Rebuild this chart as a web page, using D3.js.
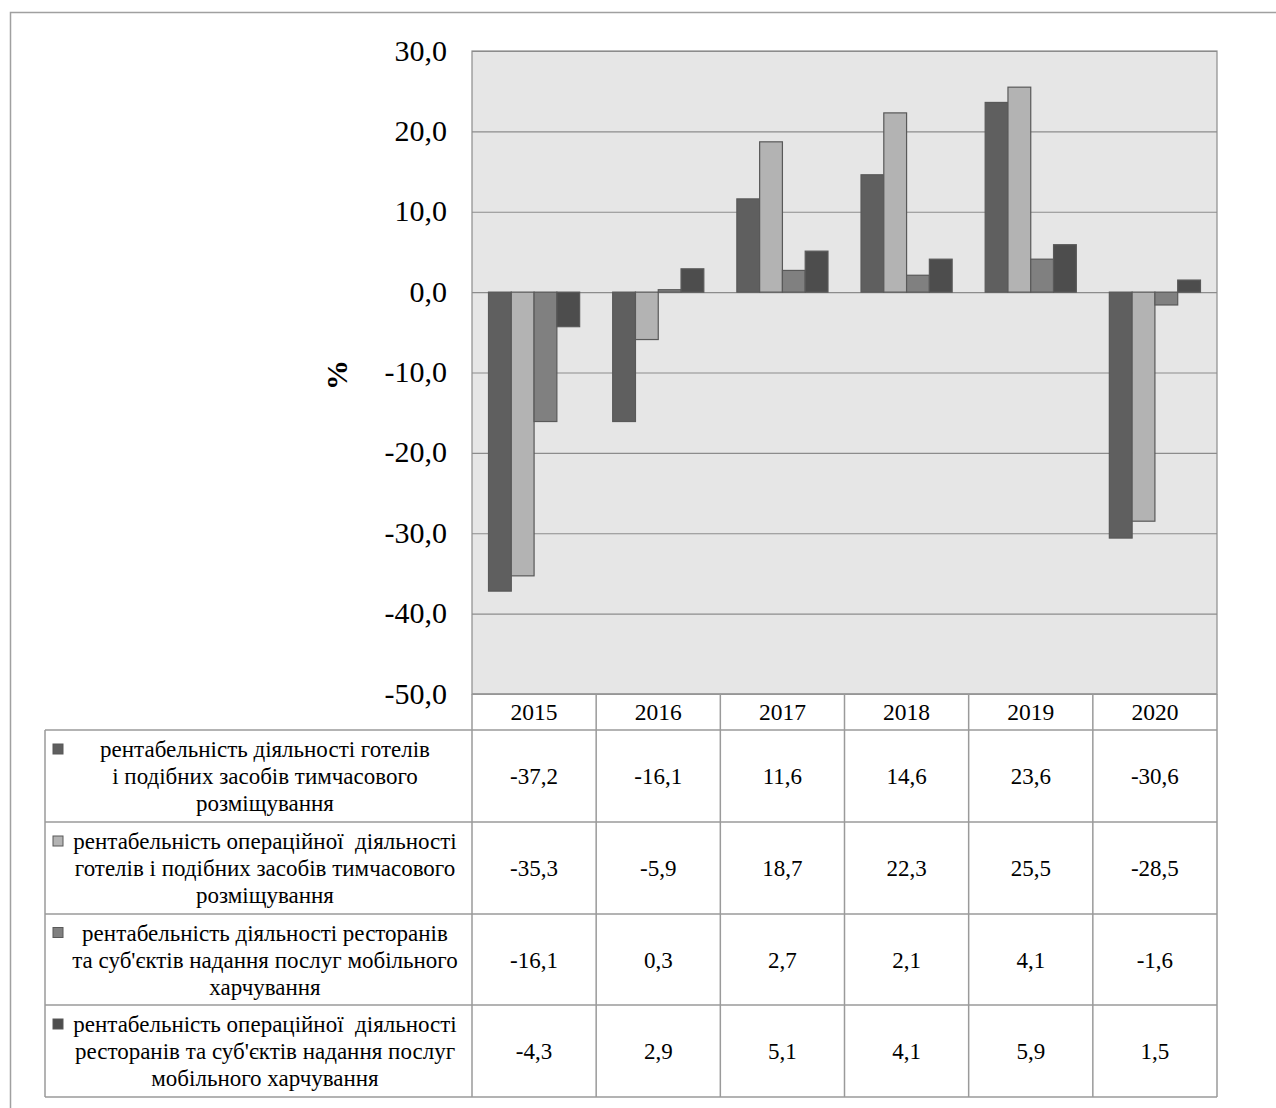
<!DOCTYPE html>
<html>
<head>
<meta charset="utf-8">
<script src="https://cdn.jsdelivr.net/npm/d3@7"></script>
</head>
<body style="margin:0; background:#fff">
<div id="chart-area"></div>
<script>
// data
var years = ["2015", "2016", "2017", "2018", "2019", "2020"];
var hotelsNet = [-37.2, -16.1, 11.6, 14.6, 23.6, -30.6];
var hotelsOper = [-35.3, -5.9, 18.7, 22.3, 25.5, -28.5];
var restNet = [-16.1, 0.3, 2.7, 2.1, 4.1, -1.6];
var restOper = [-4.3, 2.9, 5.1, 4.1, 5.9, 1.5];
var yTicks = [30, 20, 10, 0, -10, -20, -30, -40, -50];
var seriesNames = [
        ["рентабельність діяльності готелів", "і подібних засобів тимчасового", "розміщування"],
        ["рентабельність операційної  діяльності", "готелів і подібних засобів тимчасового", "розміщування"],
        ["рентабельність діяльності ресторанів", "та суб'єктів надання послуг мобільного", "харчування"],
        ["рентабельність операційної  діяльності", "ресторанів та суб'єктів надання послуг", "мобільного харчування"]
];
var seriesValues = [hotelsNet, hotelsOper, restNet, restOper];
var colors = ["#5f5f5f", "#b3b3b3", "#808080", "#4d4d4d"];

var FONT = "'Liberation Serif', 'Times New Roman', Tinos";
var fmt = d => d3.format(".1f")(d).replace(".", ",").replace("−", "-");

var plot = { left: 472, right: 1217, top: 51, bottom: 694 };
var rowTop = [694, 730, 822, 914, 1005, 1097];
var tableLeft = 45;

var svg = d3.select("#chart-area")
        .append("svg")
                .attr("width", 1276)
                .attr("height", 1108)
                .attr("font-family", "Liberation Serif")
                .style("font-family", FONT);

// outer frame (runs past right and bottom edge)
svg.append("rect")
        .attr("x", 10.5).attr("y", 12.5)
        .attr("width", 1300).attr("height", 1110)
        .attr("fill", "none")
        .attr("stroke", "#a0a0a0")
        .attr("stroke-width", 1.5);

var x = d3.scaleBand()
        .domain(years)
        .range([plot.left, plot.right])
        .paddingInner(0.266)
        .paddingOuter(0.133);

var xs = d3.scaleBand()
        .domain(d3.range(seriesValues.length))
        .range([0, x.bandwidth()]);

var y = d3.scaleLinear()
        .domain([-50, 30])
        .range([plot.bottom, plot.top]);

// plot background
svg.append("rect")
        .attr("x", plot.left).attr("y", plot.top)
        .attr("width", plot.right - plot.left)
        .attr("height", plot.bottom - plot.top)
        .attr("fill", "#e6e6e6")
        .attr("stroke", "#8c8c8c")
        .attr("stroke-width", 1.2);

// grid lines
var yAxisCall = d3.axisLeft(y)
        .tickValues(yTicks)
        .tickSize(-(plot.right - plot.left))
        .tickFormat("");
var yAxis = svg.append("g")
        .attr("class", "y-axis")
        .attr("transform", "translate(" + plot.left + ",0)")
        .call(yAxisCall);
yAxis.select(".domain").remove();
yAxis.selectAll("line").attr("stroke", "#8c8c8c").attr("stroke-width", 1.2);
yAxis.selectAll("text").remove();

// tick labels
svg.selectAll("text.ytick")
        .data(yTicks)
        .enter()
        .append("text")
        .attr("class", "ytick")
        .attr("x", plot.left - 25)
        .attr("y", d => y(d))
        .attr("dy", "0.32em")
        .attr("text-anchor", "end")
        .style("font-family", FONT)
        .style("font-size", "30px")
        .text(fmt);

svg.append("text")
        .attr("x", -375)
        .attr("y", 347)
        .style("font-family", FONT)
        .style("font-size", "30px")
        .style("font-weight", "bold")
        .attr("text-anchor", "middle")
        .attr("transform", "rotate(-90)")
        .text("%");

// bars
var groups = svg.selectAll("g.year")
        .data(years)
        .enter()
        .append("g")
                .attr("class", "year")
                .attr("transform", d => "translate(" + x(d) + ",0)");

groups.selectAll("rect")
        .data((d, i) => seriesValues.map((s, j) => ({ s: j, v: s[i] })))
        .enter()
        .append("rect")
        .attr("x", d => xs(d.s))
        .attr("width", xs.bandwidth())
        .attr("y", d => y(Math.max(0, d.v)))
        .attr("height", d => Math.abs(y(d.v) - y(0)))
        .attr("fill", d => colors[d.s])
        .attr("stroke", "#595959")
        .attr("stroke-width", 1.2);

// data table
var table = svg.append("g").attr("class", "table");
var step = x.step();
var lineColor = "#9a9a9a";

// horizontal lines
rowTop.forEach((ry, i) => {
        table.append("line")
                .attr("x1", i === 0 ? plot.left : tableLeft)
                .attr("x2", plot.right)
                .attr("y1", ry).attr("y2", ry)
                .attr("stroke", lineColor).attr("stroke-width", 1.5);
});
// vertical lines
d3.range(years.length + 1).forEach(i => {
        var vx = plot.left + i * step;
        table.append("line")
                .attr("x1", vx).attr("x2", vx)
                .attr("y1", rowTop[0]).attr("y2", rowTop[rowTop.length - 1])
                .attr("stroke", lineColor).attr("stroke-width", 1.5);
});
table.append("line")
        .attr("x1", tableLeft).attr("x2", tableLeft)
        .attr("y1", rowTop[1]).attr("y2", rowTop[rowTop.length - 1])
        .attr("stroke", lineColor).attr("stroke-width", 1.5);

// header years
table.selectAll("text.year")
        .data(years)
        .enter()
        .append("text")
        .attr("class", "year")
        .attr("x", d => x(d) + x.bandwidth() / 2)
        .attr("y", (rowTop[0] + rowTop[1]) / 2)
        .attr("dy", "0.35em")
        .attr("text-anchor", "middle")
        .style("font-family", FONT)
        .style("font-size", "23.5px")
        .text(d => d);

// rows
seriesValues.forEach((vals, r) => {
        var cy = (rowTop[r + 1] + rowTop[r + 2]) / 2;
        table.selectAll("text.v" + r)
                .data(vals)
                .enter()
                .append("text")
                .attr("class", "v" + r)
                .attr("x", (d, i) => x(years[i]) + x.bandwidth() / 2)
                .attr("y", cy)
                .attr("dy", "0.35em")
                .attr("text-anchor", "middle")
                .style("font-family", FONT)
                .style("font-size", "23px")
                .text(fmt);

        table.append("rect")
                .attr("x", 53).attr("y", cy - 27 - 5)
                .attr("width", 10).attr("height", 10)
                .attr("fill", colors[r])
                .attr("stroke", "#595959")
                .attr("stroke-width", 1);

        seriesNames[r].forEach((ln, k) => {
                table.append("text")
                        .attr("x", 265)
                        .attr("y", cy + (k - 1) * 27)
                        .attr("dy", "0.35em")
                        .attr("text-anchor", "middle")
                        .attr("xml:space", "preserve")
                        .style("font-family", FONT)
                        .style("font-size", "23px")
                        .text(ln);
        });
});
</script>
</body>
</html>
